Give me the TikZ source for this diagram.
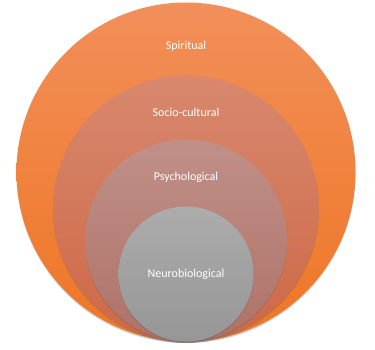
\documentclass[tikz,border=0pt]{standalone}
\usepackage{fontspec}
\setmainfont{Carlito}
\usepackage{xcolor}
\usetikzlibrary{shadows}

\definecolor{spiritTop}{RGB}{242,143,90}
\definecolor{spiritBot}{RGB}{238,118,36}
\definecolor{socioTop}{RGB}{216,136,110}
\definecolor{socioBot}{RGB}{205,104,70}
\definecolor{psychTop}{RGB}{192,144,136}
\definecolor{psychBot}{RGB}{174,114,104}
\definecolor{neuroTop}{RGB}{172,172,172}
\definecolor{neuroBot}{RGB}{150,150,150}

\tikzset{
  ring/.style={circle,inner sep=0pt,minimum size=#1,
    drop shadow={shadow xshift=0pt,shadow yshift=-1.5pt,opacity=0.35,fill=black!60}},
  lbl/.style={text=white,font=\fontsize{12}{14}\selectfont}
}

\begin{document}
\begin{tikzpicture}[x=1pt,y=-1pt]
\useasboundingbox (0,0) rectangle (375,349);
\node[ring=339pt,top color=spiritTop,bottom color=spiritBot] (spirit) at (186,172) {};
\node[ring=266pt,top color=socioTop,bottom color=socioBot] (socio) at (186,208.5) {};
\node[ring=202pt,top color=psychTop,bottom color=psychBot] (psych) at (186,240.5) {};
\node[ring=135pt,top color=neuroTop,bottom color=neuroBot] (neuro) at (186,274) {};
\node[lbl] (spiritlbl) at (186,46) {Spiritual};
\node[lbl] (sociolbl) at (186,112) {Socio-cultural};
\node[lbl] (psychlbl) at (186,177) {Psychological};
\node[lbl] (neurolbl) at (neuro) {Neurobiological};
\end{tikzpicture}
\end{document}
